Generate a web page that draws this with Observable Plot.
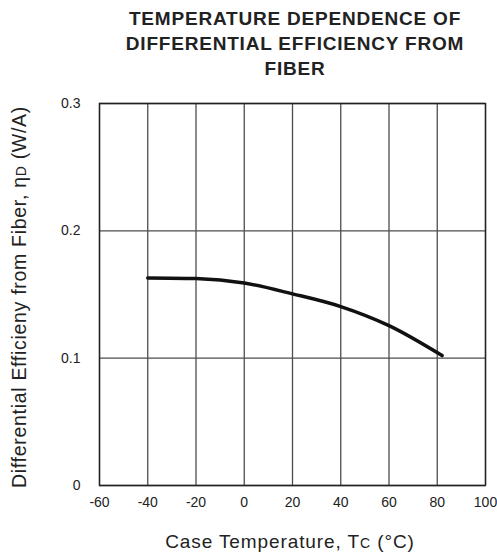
<!DOCTYPE html>
<html>
<head>
<meta charset="utf-8">
<script src="https://cdn.jsdelivr.net/npm/d3@7"></script>
<script src="https://cdn.jsdelivr.net/npm/@observablehq/plot@0.6"></script>
<style>
  body { margin: 0; background: #fff; font-family: "Liberation Sans", Arial, sans-serif; }
  #wrap { position: relative; width: 497px; height: 557px; }
  #title { position: absolute; left: 100px; width: 390px; top: 6px; text-align: center;
           font-weight: bold; font-size: 19px; letter-spacing: 0.8px; line-height: 25px; color: #222; }
  #chart { position: absolute; left: 0; top: 88px; }
</style>
</head>
<body>
<div id="wrap">
  <div id="title">TEMPERATURE DEPENDENCE OF<br>DIFFERENTIAL EFFICIENCY FROM<br>FIBER</div>
  <div id="chart"></div>
</div>
<script>
const temperature = [-40, -20, 0, 20, 40, 60, 82];
const efficiency = [0.163, 0.1625, 0.159, 0.1505, 0.1405, 0.1255, 0.102];
const xTicks = [-60, -40, -20, 0, 20, 40, 60, 80, 100];
const yTicks = [0, 0.1, 0.2, 0.3];

const data = temperature.map((t, i) => ({t, e: efficiency[i]}));
const yFmt = d => d === 0 ? "0" : d3.format(".1f")(d);

const W = 497, H = 469;
const plot = Plot.plot({
  width: W,
  height: H,
  marginLeft: 99,
  marginRight: 12,
  marginTop: 15,
  marginBottom: 72,
  style: { fontFamily: "'Liberation Sans', Arial, sans-serif", fontSize: "14px", color: "#222", background: "#fff" },
  x: { domain: [-60, 100], ticks: xTicks, tickFormat: d => String(d), label: null },
  y: { domain: [0, 0.3], ticks: yTicks, tickFormat: yFmt, label: null },
  marks: [
    Plot.gridX(xTicks, { stroke: "#4d4d4d", strokeOpacity: 1, strokeWidth: 1.3 }),
    Plot.gridY(yTicks, { stroke: "#4d4d4d", strokeOpacity: 1, strokeWidth: 1.3 }),
    Plot.frame({ stroke: "#222", strokeWidth: 1.4 }),
    Plot.axisX(xTicks, { tickSize: 0, tickPadding: 12, label: null, tickFormat: d => String(d) }),
    Plot.axisY(yTicks, { tickSize: 0, tickPadding: 19, label: null, tickFormat: yFmt }),
    Plot.line(data, { x: "t", y: "e", curve: "monotone-x", stroke: "#111", strokeWidth: 3.5 })
  ]
});
document.getElementById("chart").appendChild(plot);

const svg = d3.select(plot);
const xl = svg.append("text")
  .attr("x", 290).attr("y", 460)
  .attr("text-anchor", "middle")
  .attr("font-size", 19).attr("letter-spacing", 0.9).attr("fill", "#222");
xl.append("tspan").text("Case Temperature, T");
xl.append("tspan").attr("font-size", 14).text("C");
xl.append("tspan").text(" (°C)");

const yl = svg.append("text")
  .attr("transform", "translate(26,209) rotate(-90)")
  .attr("text-anchor", "middle")
  .attr("font-size", 19.5).attr("letter-spacing", 0.7).attr("fill", "#222");
yl.append("tspan").text("Differential Efficieny from Fiber, η");
yl.append("tspan").attr("font-size", 14).text("D");
yl.append("tspan").text(" (W/A)");
</script>
</body>
</html>
